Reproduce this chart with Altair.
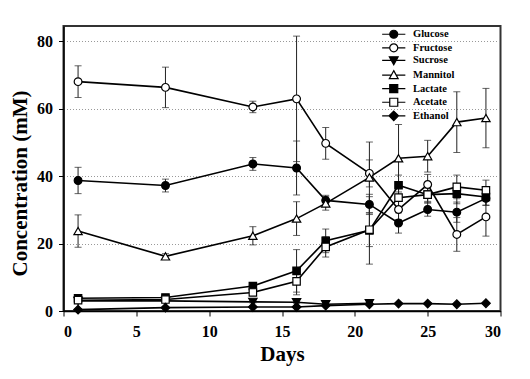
import altair as alt
import pandas as pd

days = [1, 7, 13, 16, 18, 21, 23, 25, 27, 29]
series_names = ["Glucose", "Fructose", "Sucrose", "Mannitol", "Lactate", "Acetate", "Ethanol"]

glucose = [38.7, 37.2, 43.6, 42.4, 32.8, 31.6, 26.1, 30.1, 29.3, 33.4]
glucose_err = [3.9, 1.9, 1.9, 8.0, 1.5, 3.0, 3.0, 2.0, 3.0, 2.0]
fructose = [68.0, 66.3, 60.5, 62.9, 49.7, 40.8, 30.1, 37.5, 22.7, 27.9]
fructose_err = [4.7, 6.0, 1.7, 18.6, 4.7, 4.0, 3.0, 3.0, 5.0, 5.7]
sucrose = [3.0, 3.0, 2.7, 2.6, 2.0, 2.3, None, None, None, None]
sucrose_err = [0.3, 0.3, 0.3, 0.3, 0.3, 0.3, None, None, None, None]
mannitol = [23.7, 16.2, 22.3, 27.4, 31.9, 39.6, 45.3, 45.9, 56.0, 57.2]
mannitol_err = [4.8, 0.8, 2.7, 5.0, 2.0, 10.5, 10.0, 4.7, 9.0, 8.8]
lactate = [3.8, 4.0, 7.4, 11.9, 20.8, 23.9, 37.3, 34.5, 34.8, 33.8]
lactate_err = [0.5, 0.5, 0.8, 6.3, 3.5, 10.0, 3.0, 2.5, 3.0, 2.5]
acetate = [3.2, 3.4, 5.5, 8.8, 19.0, 24.1, 33.6, 34.5, 36.8, 35.8]
acetate_err = [0.5, 0.5, 0.8, 4.0, 3.0, 5.0, 3.0, 2.0, 3.5, 3.0]
ethanol = [0.4, 1.0, 1.2, 1.2, 1.6, 2.0, 2.2, 2.2, 2.0, 2.3]
ethanol_err = [0.2, 0.2, 0.2, 0.2, 0.2, 0.2, 0.2, 0.2, 0.2, 0.2]

values = [glucose, fructose, sucrose, mannitol, lactate, acetate, ethanol]
errors = [glucose_err, fructose_err, sucrose_err, mannitol_err, lactate_err, acetate_err, ethanol_err]

rows = []
for name, vals, errs in zip(series_names, values, errors):
    for d, v, e in zip(days, vals, errs):
        if v is None:
            continue
        rows.append({"series": name, "day": d, "value": v, "lo": v - e, "hi": v + e})
df = pd.DataFrame(rows)

shapes = ["circle", "circle", "triangle-down", "triangle-up", "square", "square", "diamond"]
fills = ["black", "white", "black", "white", "black", "white", "black"]
strokes = ["black"] * 7
sizes = [60, 60, 70, 70, 55, 55, 75]
legend_shapes = [
    "M-2.9,0H-1M1,0H2.9M-1,0A1,1 0 1,0 1,0A1,1 0 1,0 -1,0Z",
    "M-2.9,0H-1M1,0H2.9M-1,0A1,1 0 1,0 1,0A1,1 0 1,0 -1,0Z",
    "M-2.9,0H-0.6M0.6,0H2.9M-1.1,-0.9L1.1,-0.9L0,1.1Z",
    "M-2.9,0H-0.6M0.6,0H2.9M0,-1.1L1.1,0.9L-1.1,0.9Z",
    "M-2.9,0H-1M1,0H2.9M-1,-1H1V1H-1Z",
    "M-2.9,0H-1M1,0H2.9M-1,-1H1V1H-1Z",
    "M-2.9,0H-1.2M1.2,0H2.9M0,-1.2L1.2,0L0,1.2L-1.2,0Z",
]

FONT = "Liberation Serif"

x_enc = alt.X("day:Q", scale=alt.Scale(domain=[0, 30], nice=False),
              axis=alt.Axis(values=[0, 5, 10, 15, 20, 25, 30], title="Days", grid=False,
                            labelFont=FONT, labelFontSize=16, labelFontWeight="bold",
                            titleFont=FONT, titleFontSize=21, titleFontWeight="bold",
                            titlePadding=4, labelPadding=7, tickSize=5,
                            domainColor="black", domainWidth=1.5, tickColor="black",
                            labelColor="black", titleColor="black"))
y_enc = alt.Y("value:Q", scale=alt.Scale(domain=[0, 84.5], nice=False),
              axis=alt.Axis(values=[0, 20, 40, 60, 80], title="Concentration (mM)",
                            grid=True, gridColor="#999", gridDash=[1, 2], gridWidth=1,
                            labelFont=FONT, labelFontSize=16, labelFontWeight="bold",
                            titleFont=FONT, titleFontSize=21, titleFontWeight="bold",
                            titleX=-37, titleY=157, titleBaseline="alphabetic",
                            labelPadding=6, tickSize=5,
                            domainColor="black", domainWidth=1.5, tickColor="black",
                            labelColor="black", titleColor="black"))

base = alt.Chart(df)

rules = base.mark_rule(color="#222", strokeWidth=1).encode(
    x="day:Q", y="lo:Q", y2="hi:Q")
caps_lo = base.mark_tick(color="#222", orient="horizontal", size=7, thickness=1).encode(
    x="day:Q", y="lo:Q")
caps_hi = base.mark_tick(color="#222", orient="horizontal", size=7, thickness=1).encode(
    x="day:Q", y="hi:Q")

lines = base.mark_line(color="black", strokeWidth=1.6).encode(
    x=x_enc, y=y_enc, detail="series:N")

point_layers = []
for name, shp, fll, sz in zip(series_names, shapes, fills, sizes):
    point_layers.append(
        base.transform_filter(alt.datum.series == name).mark_point(
            shape=shp, size=sz, filled=True, fill=fll, stroke="black",
            strokeWidth=1.2, opacity=1
        ).encode(x="day:Q", y="value:Q")
    )

leg_legend = alt.Legend(title=None, orient="none", legendX=325, legendY=3,
                        labelFont=FONT, labelFontSize=10.5, labelFontWeight="bold",
                        labelColor="black", labelOffset=14, rowPadding=-0.4, padding=0,
                        symbolSize=64, symbolStrokeWidth=1.2, symbolOpacity=1)

legend_layer = base.transform_filter("datum.day < 0").mark_point(
    filled=False, strokeWidth=1.2, opacity=1).encode(
    x="day:Q", y="value:Q",
    shape=alt.Shape("series:N", scale=alt.Scale(domain=series_names, range=legend_shapes),
                    legend=leg_legend),
    fill=alt.Fill("series:N", scale=alt.Scale(domain=series_names, range=fills),
                  legend=leg_legend),
    stroke=alt.Stroke("series:N", scale=alt.Scale(domain=series_names, range=strokes),
                      legend=leg_legend),
)

chart = alt.layer(lines, rules, caps_lo, caps_hi, *point_layers, legend_layer).properties(
    width=437, height=285,
    autosize=alt.AutoSizeParams(type="none"),
    padding={"left": 55.5, "top": 18, "right": 21, "bottom": 60},
    background="white",
).configure_view(stroke="#333", strokeWidth=2)

chart.save("out.html", embed_options={"renderer": "svg", "actions": False})
